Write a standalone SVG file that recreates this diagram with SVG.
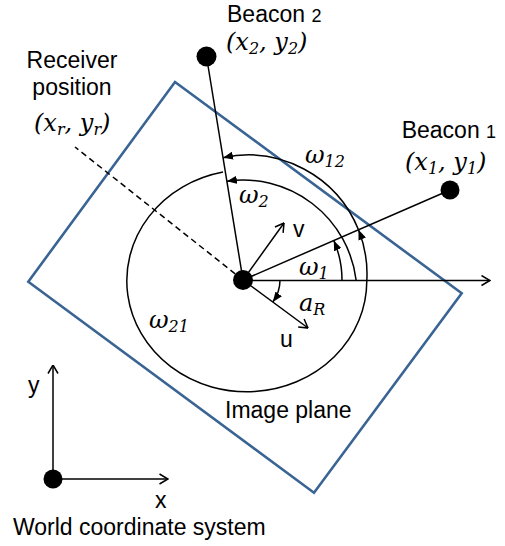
<svg xmlns="http://www.w3.org/2000/svg" width="505" height="546" viewBox="0 0 505 546">
<style>
.sans{font-family:"Liberation Sans",Arial,sans-serif;font-size:23px;fill:#000}
.math{font-family:"DejaVu Serif",serif;font-style:italic;font-size:24px;fill:#000}
.sub{font-size:16px}
.ln{fill:none;stroke:#000;stroke-width:1.5}
.dot{fill:#000}
</style>
<defs>
<marker id="open" viewBox="0 0 10 12" refX="9.5" refY="6" markerWidth="10" markerHeight="12" markerUnits="userSpaceOnUse" orient="auto">
<path d="M1,1 L9.5,6 L1,11" fill="none" stroke="#000" stroke-width="1.5"/>
</marker>
<marker id="fill" viewBox="0 0 10 8" refX="10" refY="4" markerWidth="10" markerHeight="8" markerUnits="userSpaceOnUse" orient="auto">
<path d="M0,0 L10,4 L0,8 z" fill="#000"/>
</marker>
</defs>
<g id="image-plane">
<polygon points="175,82 461.7,293.3 314,492.7 28.3,281.7" fill="none" stroke="#3A6493" stroke-width="2.6"/>
<text class="sans" x="225" y="418">Image plane</text>
</g>
<g id="connectors">
<line class="ln" x1="243" y1="280" x2="206.5" y2="56.5"/>
<line class="ln" x1="243" y1="280" x2="450" y2="190"/>
<line class="ln" x1="243" y1="280" x2="75" y2="147" stroke-dasharray="6,4"/>
<line class="ln" x1="243" y1="280.5" x2="490" y2="280.5" marker-end="url(#open)"/>
<line class="ln" x1="243" y1="280" x2="308" y2="328" marker-end="url(#open)"/>
<line class="ln" x1="243" y1="280" x2="284" y2="223" marker-end="url(#open)"/>
<path class="ln" d="M223,172 A120 111 0 1 0 366.8,281"/>
<path class="ln" d="M366.8,281 A119 119 0 0 0 358.5,229.8" marker-end="url(#fill)"/>
<path class="ln" d="M358.5,229.8 A119 119 0 0 0 223,157.7" marker-end="url(#fill)"/>
<path class="ln" d="M356.1,280 A114 114 0 0 0 226.9,181.2" marker-end="url(#fill)"/>
<path class="ln" d="M342,280 A99 99 0 0 0 333.8,240.5" marker-end="url(#fill)"/>
<path class="ln" d="M280,280.5 A37 37 0 0 1 272.8,302" marker-end="url(#fill)"/>
<line class="ln" x1="53" y1="479" x2="53" y2="365" marker-end="url(#open)"/>
<line class="ln" x1="53" y1="479" x2="168" y2="479" marker-end="url(#open)"/>
</g>
<g id="receiver">
<circle class="dot" cx="243" cy="280" r="10"/>
<text class="sans" x="72" y="68" text-anchor="middle">Receiver</text>
<text class="sans" x="72" y="95" text-anchor="middle">position</text>
<text class="math" x="34" y="131">(x<tspan class="sub" dy="4">r</tspan><tspan dy="-4">, y</tspan><tspan class="sub" dy="4">r</tspan><tspan dy="-4">)</tspan></text>
</g>
<g id="beacon2">
<circle class="dot" cx="206.5" cy="56.5" r="10"/>
<text class="sans" x="227" y="22">Beacon <tspan font-size="18">2</tspan></text>
<text class="math" x="226" y="50">(x<tspan class="sub" dy="4">2</tspan><tspan dy="-4">, y</tspan><tspan class="sub" dy="4">2</tspan><tspan dy="-4">)</tspan></text>
</g>
<g id="beacon1">
<circle class="dot" cx="450" cy="190" r="9.5"/>
<text class="sans" x="401.7" y="138">Beacon <tspan font-size="18">1</tspan></text>
<text class="math" x="405" y="170">(x<tspan class="sub" dy="4">1</tspan><tspan dy="-4">, y</tspan><tspan class="sub" dy="4">1</tspan><tspan dy="-4">)</tspan></text>
</g>
<g id="angle-labels">
<text class="math" x="305" y="163">ω<tspan class="sub" dy="4">12</tspan></text>
<text class="math" x="239" y="203">ω<tspan class="sub" dy="4">2</tspan></text>
<text class="math" x="299" y="275">ω<tspan class="sub" dy="4">1</tspan></text>
<text class="math" x="149" y="328">ω<tspan class="sub" dy="4">21</tspan></text>
<text class="math" x="299" y="311">a<tspan class="sub" dy="4">R</tspan></text>
<text class="sans" x="293" y="237">v</text>
<text class="sans" x="280" y="347">u</text>
</g>
<g id="world">
<circle class="dot" cx="53" cy="479" r="9.5"/>
<text class="sans" x="28" y="393">y</text>
<text class="sans" x="155" y="508">x</text>
<text class="sans" x="13" y="535">World coordinate system</text>
</g>
</svg>
